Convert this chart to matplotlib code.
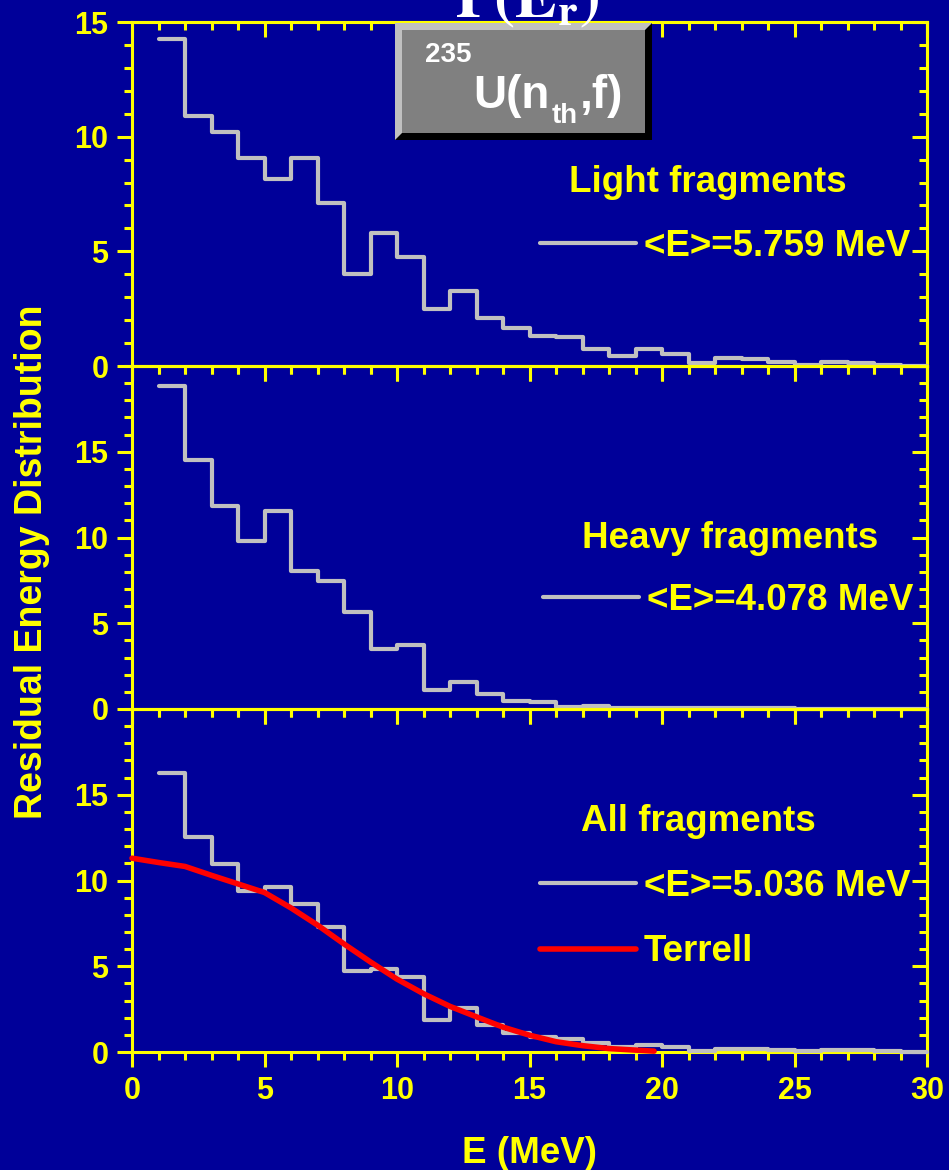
import numpy as np
import matplotlib
matplotlib.use("Agg")
import matplotlib.pyplot as plt
from matplotlib.ticker import MultipleLocator
from matplotlib.patches import Rectangle, Polygon

# ---------------------------------------------------------------- data
bin_edges = np.arange(1, 31)          # 1 MeV bins from 1 to 30 MeV

light_counts = [14.25, 10.9, 10.2, 9.05, 8.15, 9.05, 7.1, 4.0, 5.8, 4.75,
                2.5, 3.28, 2.11, 1.64, 1.32, 1.28, 0.76, 0.45, 0.76, 0.52,
                0.12, 0.36, 0.29, 0.19, 0.04, 0.16, 0.12, 0.06, 0.02]

heavy_counts = [18.85, 14.52, 11.83, 9.77, 11.54, 8.03, 7.45, 5.65, 3.49, 3.74,
                1.11, 1.56, 0.86, 0.47, 0.39, 0.14, 0.17, 0.08, 0.06, 0.05,
                0.03, 0.05, 0.04, 0.03, 0.02, 0.02, 0.02, 0.01, 0.01]

all_counts = [16.29, 12.56, 10.96, 9.39, 9.63, 8.65, 7.28, 4.71, 4.86, 4.35,
              1.87, 2.56, 1.58, 1.12, 0.90, 0.74, 0.51, 0.31, 0.41, 0.27,
              0.04, 0.18, 0.16, 0.10, 0.04, 0.12, 0.10, 0.04, 0.02]

terrell_E = [0, 1, 2, 3, 4, 5, 6, 7, 8, 9, 10, 11, 12, 13, 14, 15, 16, 17,
             18, 19, 19.7]
terrell_vals = [11.3, 11.05, 10.82, 10.3, 9.8, 9.3, 8.4, 7.4, 6.3, 5.25, 4.25,
                3.4, 2.66, 2.05, 1.45, 0.98, 0.6, 0.37, 0.2, 0.11, 0.05]

panel_names = ["Light fragments", "Heavy fragments", "All fragments"]
mean_labels = ["<E>=5.759 MeV", "<E>=4.078 MeV", "<E>=5.036 MeV"]
terrell_label = "Terrell"
y_max = [15, 20, 20]
y_ticks = [0, 5, 10, 15]
x_ticks = [0, 5, 10, 15, 20, 25, 30]

# ---------------------------------------------------------------- style
BG = "#000099"
YEL = "#ffff00"
GRAY = "#c0c0c0"
RED = "#ff0000"

plt.rcParams["font.family"] = ["Liberation Sans", "DejaVu Sans"]
plt.rcParams["font.weight"] = "bold"

W, H = 949, 1170
fig = plt.figure(figsize=(W / 100, H / 100), dpi=100, facecolor=BG)


def fx(px):
    return px / W


def fy(py):
    return 1 - py / H


left, right = 132, 927
bounds = [(22, 366), (366, 709), (709, 1052)]

SPINE_W = 2.2
TICK_W = 2.2
MAJ_L, MIN_L = 11, 6
TICK_FS = 22
TEXT_FS = 26.5

axes = []
for i, (top, bot) in enumerate(bounds):
    ax = fig.add_axes([fx(left), fy(bot), fx(right) - fx(left), fy(top) - fy(bot)])
    ax.set_facecolor("none")
    ax.set_xlim(0, 30)
    ax.set_ylim(0, y_max[i])
    for sp in ax.spines.values():
        sp.set_color(YEL)
        sp.set_linewidth(SPINE_W)
    ax.set_xticks(x_ticks)
    ax.xaxis.set_minor_locator(MultipleLocator(1))
    ax.set_yticks(y_ticks)
    ax.yaxis.set_minor_locator(MultipleLocator(1))
    ax.tick_params(axis="both", which="both", direction="out", color=YEL,
                   width=TICK_W, labelcolor=YEL, labelsize=TICK_FS,
                   top=False, right=False)
    ax.tick_params(axis="both", which="major", length=MAJ_L)
    ax.tick_params(axis="both", which="minor", length=MIN_L)
    ax.tick_params(axis="y", pad=6)
    ax.tick_params(axis="x", pad=6.5)
    ax.tick_params(axis="x", labelbottom=(i == 2))
    for lab in ax.get_xticklabels() + ax.get_yticklabels():
        lab.set_fontweight("bold")

    # inward ticks on the top and right edges
    sx = ax.secondary_xaxis("top")
    sx.set_xticks(x_ticks)
    sx.xaxis.set_minor_locator(MultipleLocator(1))
    sx.tick_params(which="both", direction="in", color=YEL, width=TICK_W,
                   labeltop=False)
    sx.tick_params(which="major", length=MAJ_L)
    sx.tick_params(which="minor", length=MIN_L)
    sx.spines["top"].set_color(YEL)
    sx.spines["top"].set_linewidth(SPINE_W)

    sy = ax.secondary_yaxis("right")
    sy.set_yticks(y_ticks)
    sy.yaxis.set_minor_locator(MultipleLocator(1))
    sy.tick_params(which="both", direction="in", color=YEL, width=TICK_W,
                   labelright=False)
    sy.tick_params(which="major", length=MAJ_L)
    sy.tick_params(which="minor", length=MIN_L)
    sy.spines["right"].set_color(YEL)
    sy.spines["right"].set_linewidth(SPINE_W)
    axes.append(ax)

counts = [light_counts, heavy_counts, all_counts]
header_pos = [(0.7245, 0.5058), (0.7522, 0.4694), (0.712, 0.6443)]
legend_anchor = [(0.513, 0.3468), (0.517, 0.3177), (0.513, 0.3877)]

for i, ax in enumerate(axes):
    vals = np.asarray(counts[i])
    step_line, = ax.plot(bin_edges, np.append(vals, vals[-1]),
                         drawstyle="steps-post", color=GRAY, lw=3.0,
                         solid_joinstyle="round", solid_capstyle="round",
                         zorder=3, clip_on=False, label=mean_labels[i])
    handles = [step_line]
    if i == 2:
        t_line, = ax.plot(terrell_E, terrell_vals, color=RED, lw=4.0,
                          solid_capstyle="round", solid_joinstyle="round",
                          zorder=4, clip_on=False, label=terrell_label)
        handles.append(t_line)

    ax.text(*header_pos[i], panel_names[i], transform=ax.transAxes,
            ha="center", va="baseline", color=YEL, fontsize=TEXT_FS,
            fontweight="bold")
    leg = ax.legend(handles=handles, loc="center left",
                    bbox_to_anchor=legend_anchor[i], frameon=False,
                    borderpad=0, borderaxespad=0, handlelength=2.6,
                    handletextpad=0.22, labelspacing=0.84,
                    prop={"size": TEXT_FS, "weight": "bold"})
    for txt in leg.get_texts():
        txt.set_color(YEL)

# axis titles
fig.text(fx(32), fy(562), "Residual Energy Distribution", rotation=90,
         ha="center", va="center", color=YEL, fontsize=27, fontweight="bold")
fig.text(fx(530), fy(1163), "E (MeV)", ha="center", va="baseline",
         color=YEL, fontsize=TEXT_FS, fontweight="bold")

# bevelled reaction label box
x0, x1, y0, y1, b = 395, 652, 23, 140, 7
fig.add_artist(Polygon([(fx(x0), fy(y0)), (fx(x1), fy(y0)), (fx(x1), fy(y1)),
                        (fx(x0), fy(y1))], closed=True, facecolor=GRAY,
                       edgecolor="none", zorder=5))
fig.add_artist(Polygon([(fx(x0), fy(y1)), (fx(x1), fy(y1)), (fx(x1), fy(y0)),
                        (fx(x1 - b), fy(y0 + b)), (fx(x1 - b), fy(y1 - b)),
                        (fx(x0 + b), fy(y1 - b))], closed=True,
                       facecolor="black", edgecolor="none", zorder=5))
fig.add_artist(Rectangle((fx(x0 + b), fy(y1 - b)), fx(x1 - b) - fx(x0 + b),
                         fy(y0 + b) - fy(y1 - b), facecolor="#808080",
                         edgecolor="none", zorder=5))

# reaction label 235U(n_th,f), set piece by piece
label_parts = [("235", 425, 62, 20), ("U(n", 473, 108, 33),
               ("th", 552, 123, 20), (",f)", 580, 108, 33)]
for s, px, py, fs in label_parts:
    fig.text(fx(px), fy(py), s, ha="left", va="baseline", color="white",
             fontsize=fs, fontweight="bold", zorder=6)

# distribution symbol at the top
fig.text(fx(527), fy(17), r"$\mathbf{\Gamma(E_r)}$", math_fontfamily="stix",
         ha="center", va="baseline", color="white", fontsize=45, zorder=7)

fig.savefig("out.png", dpi=100, facecolor=BG)
